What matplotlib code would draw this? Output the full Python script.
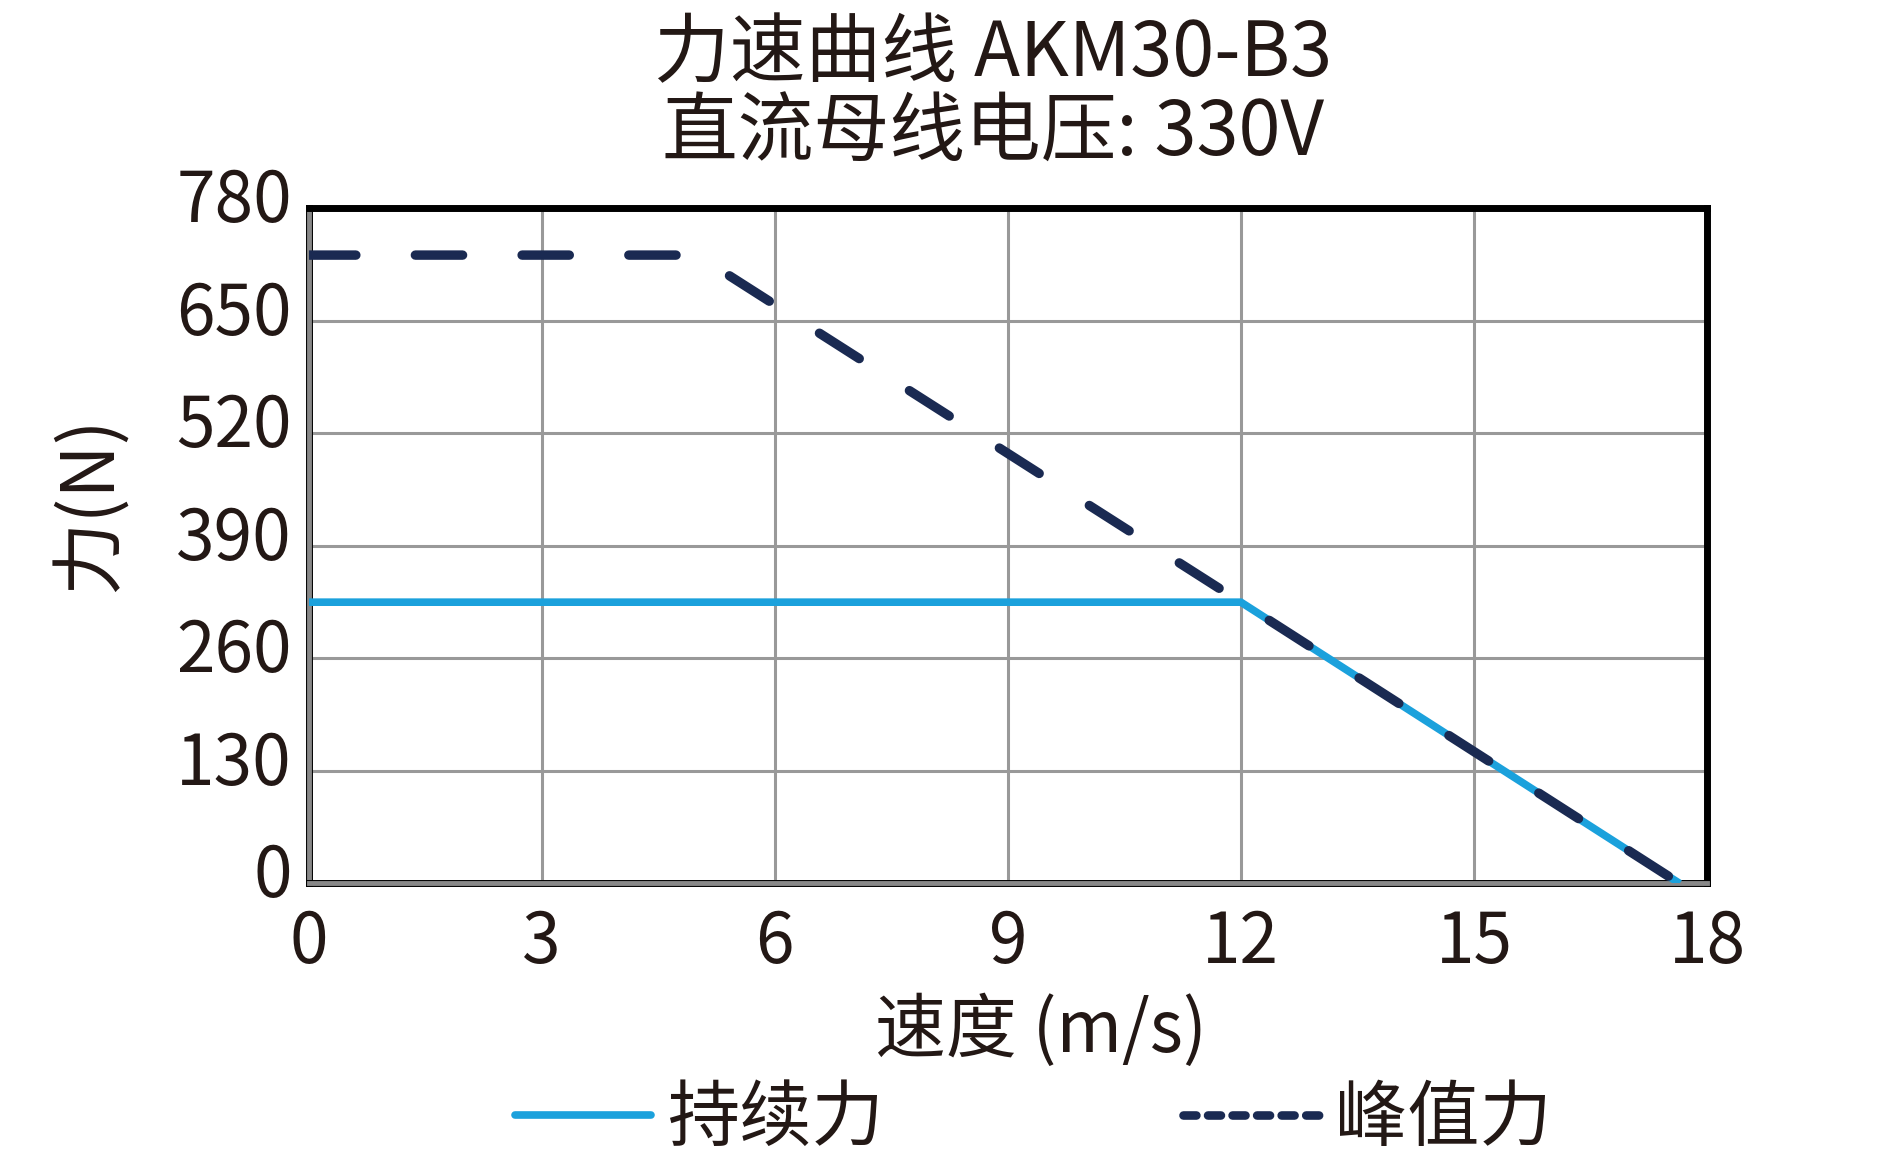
import matplotlib
matplotlib.use("Agg")
import matplotlib.pyplot as plt
import matplotlib.patheffects as pe
import matplotlib.transforms as mtrans
from matplotlib.lines import Line2D

plt.rcParams['font.family'] = ['Noto Sans CJK SC', 'DejaVu Sans']

# data
cont_speed = [0, 12, 17.65]
cont_force = [325, 325, 0]
peak_speed = [0, 5.0, 12, 17.65]
peak_force = [726, 726, 325, 0]

x_ticks = [0, 3, 6, 9, 12, 15, 18]
y_ticks = [0, 130, 260, 390, 520, 650, 780]

TITLE = "力速曲线 AKM30-B3\n直流母线电压: 330V"
XLABEL = "速度 (m/s)"
YLABEL = "力(N)"
LABELS = ["持续力", "峰值力"]

BLUE = "#1BA1DC"
NAVY = "#1A2A52"
TXT = "#231815"

fig = plt.figure(figsize=(18.82, 11.64), dpi=100)
ax = fig.add_axes([0.164, 0.241, 0.743, 0.580])

ax.plot(cont_speed, cont_force, color=BLUE, lw=5.5, solid_capstyle="butt",
        solid_joinstyle="miter", zorder=3)
ax.plot(peak_speed, peak_force, color=NAVY, lw=6.8, dashes=(5.0, 6.3),
        dash_capstyle="round", zorder=4)

ax.set_xlim(0, 18)
ax.set_ylim(0, 780)
ax.set_xticks(x_ticks)
ax.set_yticks(y_ticks)
ax.tick_params(length=0, labelsize=50, colors=TXT)
ax.tick_params(axis="x", pad=17)
ax.tick_params(axis="y", pad=12)
shift = mtrans.ScaledTranslation(0, 10 / 72, fig.dpi_scale_trans)
for lab in ax.get_yticklabels():
    lab.set_transform(lab.get_transform() + shift)
ax.grid(True, color="#999999", lw=2.2)
ax.set_axisbelow(True)

for s in ["top", "right"]:
    ax.spines[s].set_color("black")
    ax.spines[s].set_linewidth(5)
for s in ["left", "bottom"]:
    ax.spines[s].set_color("#888888")
    ax.spines[s].set_linewidth(3.5)
    ax.spines[s].set_path_effects([pe.Stroke(linewidth=5, foreground="black"), pe.Normal()])

fig.text(0.5275, 0.919, TITLE, ha="center", va="center", fontsize=54.5,
         linespacing=1.04, color=TXT)
fig.text(0.553, 0.114, XLABEL, ha="center", va="center", fontsize=51, color=TXT)
fig.text(0.048, 0.567, YLABEL, ha="center", va="center", fontsize=53,
         rotation=90, color=TXT)

handles = [
    Line2D([], [], color=BLUE, lw=5.5, solid_capstyle="round"),
    Line2D([], [], color=NAVY, lw=6.2, dashes=(1.5, 1.35), dash_capstyle="round"),
]
leg = fig.legend(handles, LABELS, loc="center", bbox_to_anchor=(0.549, 0.038),
                 ncol=2, frameon=False, fontsize=52, handlelength=1.88,
                 handletextpad=0.22, columnspacing=4.15)
for t in leg.get_texts():
    t.set_color(TXT)

fig.savefig("out.png", dpi=100)
